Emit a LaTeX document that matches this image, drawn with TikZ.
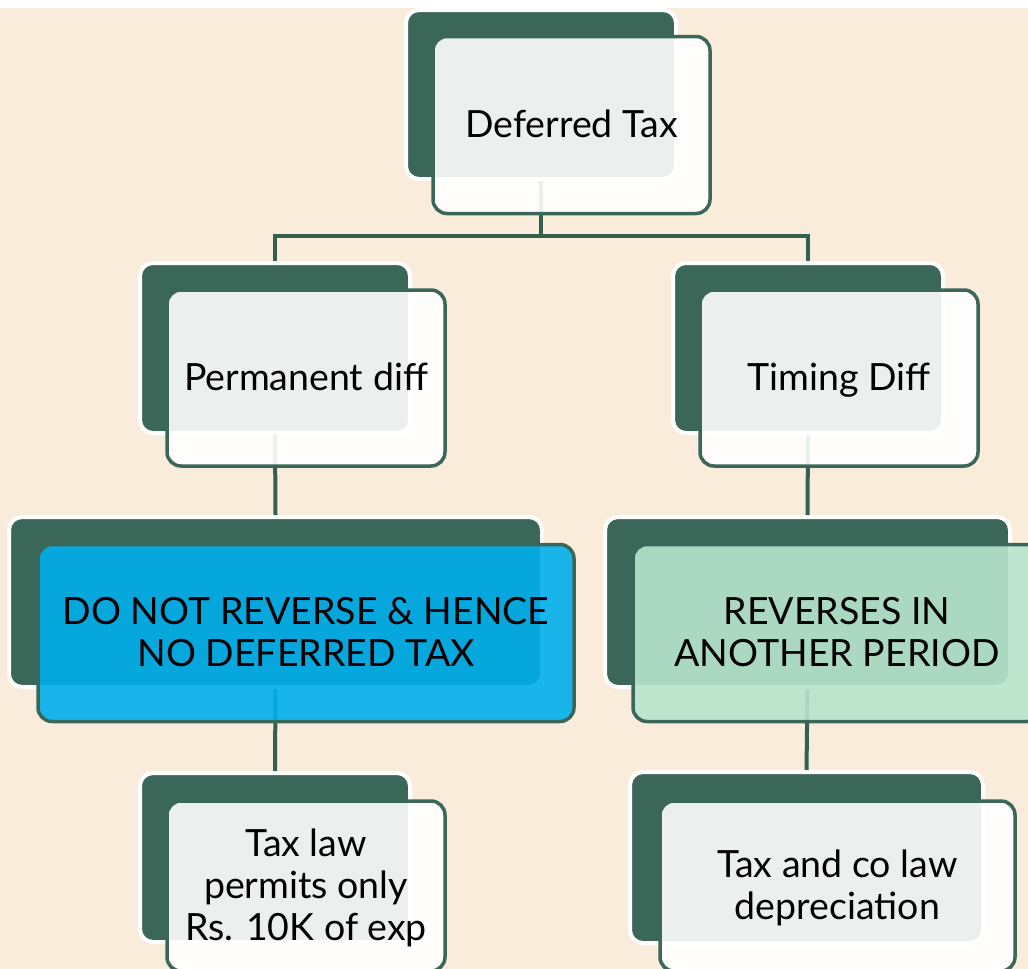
\documentclass[tikz,border=0pt]{standalone}
\usepackage{fontspec}
\setmainfont{Lato}
\definecolor{pagecream}{HTML}{FAECDA}
\definecolor{deepgreen}{HTML}{3B6759}
\definecolor{wiregreen}{HTML}{33604F}
\definecolor{skyblue}{HTML}{00AFEC}
\definecolor{mintgreen}{HTML}{B7E5CD}
% tall strut so that every label sits at the same baseline offset
\newcommand{\capstrut}{\rule{0pt}{38pt}}
\begin{document}
\begin{tikzpicture}[x=1pt,y=-1pt,
  backbox/.style={draw=white, line width=4pt, fill=deepgreen,
    rounded corners=13pt, inner sep=0pt},
  frontbox/.style={draw=deepgreen, line width=3.5pt, fill=#1, fill opacity=0.9,
    text opacity=1, rounded corners=14pt, inner sep=0pt, align=center,
    font=\fontsize{37.5}{42}\selectfont},
  frontbox/.default=white,
  conn/.style={draw=wiregreen, line width=4pt}]
\useasboundingbox (0,0) rectangle (1028,969);
\clip (0,0) rectangle (1028,969);
\fill[white] (0,0) rectangle (1028,8);
\fill[pagecream] (0,8) rectangle (1028,969);

% back panels
\node[backbox, minimum width=270pt, minimum height=169pt] (top-b) at (541,94.5) {};
\node[backbox, minimum width=270pt, minimum height=170pt] (pd-b) at (275,348) {};
\node[backbox, minimum width=270pt, minimum height=170pt] (td-b) at (808,348) {};
\node[backbox, minimum width=533pt, minimum height=170pt] (dn-b) at (275.5,602) {};
\node[backbox, minimum width=405pt, minimum height=170pt] (rv-b) at (807.5,602) {};
\node[backbox, minimum width=270pt, minimum height=169pt] (tl-b) at (275,857.5) {};
\node[backbox, minimum width=353pt, minimum height=171pt] (dp-b) at (806.5,857.5) {};

% connectors
\coordinate (bus) at (541,236);
\draw[conn] (top-b.south) -- (bus) -| (pd-b.north);
\draw[conn] (bus) -| (td-b.north);
\draw[conn] (pd-b.south) -- (dn-b.north);
\draw[conn] (td-b.south) -- (rv-b.north);
\draw[conn] (dn-b.south) -- (tl-b.north);
\draw[conn] (rv-b.south) -- (dp-b.north);

% front panels with labels
\node[frontbox, minimum width=277pt, minimum height=177pt] (top) at (571.5,125) {\capstrut Deferred Tax\strut};
\node[frontbox, minimum width=278pt, minimum height=176pt] (pd) at (306,378) {\capstrut Permanent diff\strut};
\node[frontbox, minimum width=278pt, minimum height=176pt] (td) at (839,378) {\capstrut Timing Diff\strut};
\node[frontbox=skyblue, minimum width=536pt, minimum height=177pt] (dn) at (306,633) {\capstrut DO NOT REVERSE \& HENCE\\NO DEFERRED TAX\strut};
\node[frontbox=mintgreen, minimum width=408pt, minimum height=177pt] (rv) at (837,633) {\capstrut REVERSES IN\\ANOTHER PERIOD\strut};
\node[frontbox, minimum width=278pt, minimum height=170pt] (tl) at (306,886) {\capstrut Tax law\\permits only\\Rs. 10K of exp\strut};
\node[frontbox, minimum width=355pt, minimum height=170pt] (dp) at (837.5,886) {\capstrut Tax and co law\\depreciation\strut};
\end{tikzpicture}
\end{document}
